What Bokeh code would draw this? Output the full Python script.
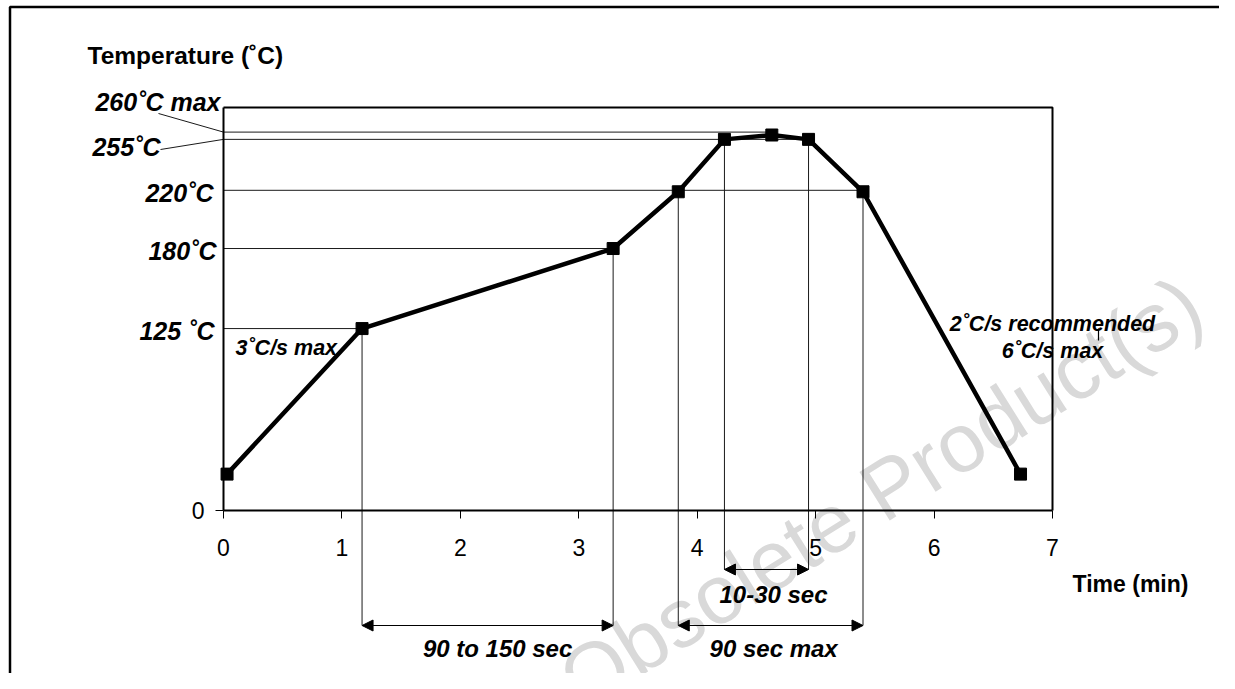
from bokeh.plotting import figure
from bokeh.models import Range1d, FixedTicker, Arrow, NormalHead, LinearAxis
from bokeh.core.properties import value
from bokeh.embed import file_html
from bokeh.resources import INLINE
import math

# ---------------- data ----------------
time_min = [0.03, 1.17, 3.29, 3.84, 4.23, 4.63, 4.94, 5.40, 6.73]
temp_c = [25, 125, 180, 219, 255, 258, 255, 219, 25]

ref_temps = [125, 180, 220, 255, 260]
ref_labels = ["125 ˚C", "180˚C", "220˚C", "255˚C", "260˚C max"]
ref_end_time = [1.17, 3.29, 5.40, 4.94, 4.63]

x_ticks = [0, 1, 2, 3, 4, 5, 6, 7]
y_ticks = [0]

# vertical marker lines (time, temperature where they start)
vline_time = [1.17, 3.29, 3.84, 5.40, 4.23, 4.94]
vline_temp = [125, 180, 219, 219, 255, 255]
vline_level = ["outer", "outer", "outer", "outer", "inner", "inner"]

span_start = [1.17, 3.84, 4.23]
span_end = [3.29, 5.40, 4.94]
span_label = ["90 to 150 sec", "90 sec max", "10-30 sec"]
span_level = ["outer", "outer", "inner"]

# ---------------- layout helpers (picture pixels -> data) ----------------
W, H = 1219, 673
PX0, PX7 = 223, 1052
PY0, PY_SCALE = 510, 1.4554


def X(px):
    return (px - PX0) * 7.0 / (PX7 - PX0)


def Y(py):
    return (PY0 - py) / PY_SCALE


AXIS_TOP = Y(107)
LEVEL_Y = {"outer": Y(625), "inner": Y(569)}
FONT = value("Liberation Sans")

p = figure(width=W, height=H,
           x_range=Range1d(X(0), X(W)), y_range=Range1d(Y(H), Y(0)),
           output_backend="svg", toolbar_location=None, min_border=0,
           x_axis_location=None, y_axis_location=None)
p.outline_line_color = None
p.xgrid.visible = False
p.ygrid.visible = False
p.background_fill_color = "white"
p.border_fill_color = "white"

# watermark
p.text(x=[X(880)], y=[Y(492)], text=["Obsolete Product(s)"], angle=math.radians(32),
       text_align="center", text_baseline="middle", text_font=FONT,
       text_font_size="83px", text_color="#d9d9d9")

# outer page frame
p.line(x=[X(9.5), X(9.5), X(1240)], y=[Y(700), Y(6.5), Y(6.5)], line_width=2.5, color="black")

# axes
xa = LinearAxis(fixed_location=0, ticker=FixedTicker(ticks=x_ticks), bounds=(0, 7),
                axis_line_width=2, axis_line_color="black",
                major_tick_out=8, major_tick_in=0, minor_tick_out=0, minor_tick_in=0,
                major_tick_line_color="black", major_tick_line_width=1,
                major_label_text_font="Liberation Sans", major_label_text_font_size="23px",
                major_label_text_color="black", major_label_standoff=20)
p.add_layout(xa, "below")
ya = LinearAxis(fixed_location=0, ticker=FixedTicker(ticks=y_ticks), bounds=(0, AXIS_TOP),
                axis_line_width=2, axis_line_color="black",
                major_tick_out=8, major_tick_in=0, minor_tick_out=0, minor_tick_in=0,
                major_tick_line_color="black", major_tick_line_width=1,
                major_label_text_font="Liberation Sans", major_label_text_font_size="23px",
                major_label_text_color="black", major_label_standoff=11)
p.add_layout(ya, "left")

# plot box top & right
p.line(x=[0, 7, 7], y=[AXIS_TOP, AXIS_TOP, 0], line_width=2, color="black")

# horizontal reference lines
p.segment(x0=[0] * len(ref_temps), y0=ref_temps, x1=ref_end_time, y1=ref_temps,
          line_width=1, color="#1a1a1a")

# vertical marker lines
p.segment(x0=vline_time, y0=vline_temp, x1=vline_time,
          y1=[LEVEL_Y[l] for l in vline_level], line_width=1, color="#1a1a1a")

# leader lines for 260 / 255 labels
p.segment(x0=[X(158), X(160)], y0=[Y(113), Y(149)], x1=[0, 0], y1=[260, 255],
          line_width=1, color="#1a1a1a")
# small stroke near annotation
p.segment(x0=[X(1098)], y0=[Y(328)], x1=[X(1098)], y1=[Y(340)], line_width=1.2, color="black")

# profile
p.line(x=time_min, y=temp_c, line_width=4.5, color="black")
p.scatter(x=time_min, y=temp_c, marker="square", size=12, color="black")

# arrows
for t0, t1, lv in zip(span_start, span_end, span_level):
    yy = LEVEL_Y[lv]
    p.add_layout(Arrow(start=NormalHead(size=11, fill_color="black", line_color="black", line_width=1),
                       end=NormalHead(size=11, fill_color="black", line_color="black", line_width=1),
                       x_start=t0, y_start=yy, x_end=t1, y_end=yy, line_width=1.2, line_color="black"))

# span labels
span_lbl_y = {"outer": Y(648), "inner": Y(594)}
span_x_off = [10, 3, 7]
p.text(x=[(a + b) / 2 for a, b in zip(span_start, span_end)],
       y=[span_lbl_y[l] for l in span_level], text=span_label, x_offset=span_x_off,
       text_align="center", text_baseline="middle", text_font=FONT,
       text_font_size="24px", text_font_style="bold italic", text_color="black")

# y reference labels
lab_x_off = [-9, -7, -10, -63, -3]
lab_y_off = [2, 2, 3, 8, -30]
p.text(x=[0] * len(ref_temps), y=ref_temps, text=ref_labels,
       x_offset=lab_x_off, y_offset=lab_y_off,
       text_align="right", text_baseline="middle", text_font=FONT,
       text_font_size="25px", text_font_style="bold italic", text_color="black")

# axis titles
p.text(x=[X(87)], y=[Y(55)], text=["Temperature (˚C)"], text_align="left",
       text_baseline="middle", text_font=FONT, text_font_size="24.5px",
       text_font_style="bold", text_color="black")
p.text(x=[X(1130)], y=[Y(583)], text=["Time (min)"], text_align="center",
       text_baseline="middle", text_font=FONT, text_font_size="23px",
       text_font_style="bold", text_color="black")

# slope annotations
p.text(x=[X(235)], y=[Y(347)], text=["3˚C/s max"], text_align="left",
       text_baseline="middle", text_font=FONT, text_font_size="21.5px",
       text_font_style="bold italic", text_color="black")
p.text(x=[X(1052), X(1052)], y=[Y(323), Y(350)], text=["2˚C/s recommended", "6˚C/s max"],
       text_align="center", text_baseline="middle", text_font=FONT,
       text_font_size="21.5px", text_font_style="bold italic", text_color="black")

open("out.html", "w").write(file_html(p, INLINE))
